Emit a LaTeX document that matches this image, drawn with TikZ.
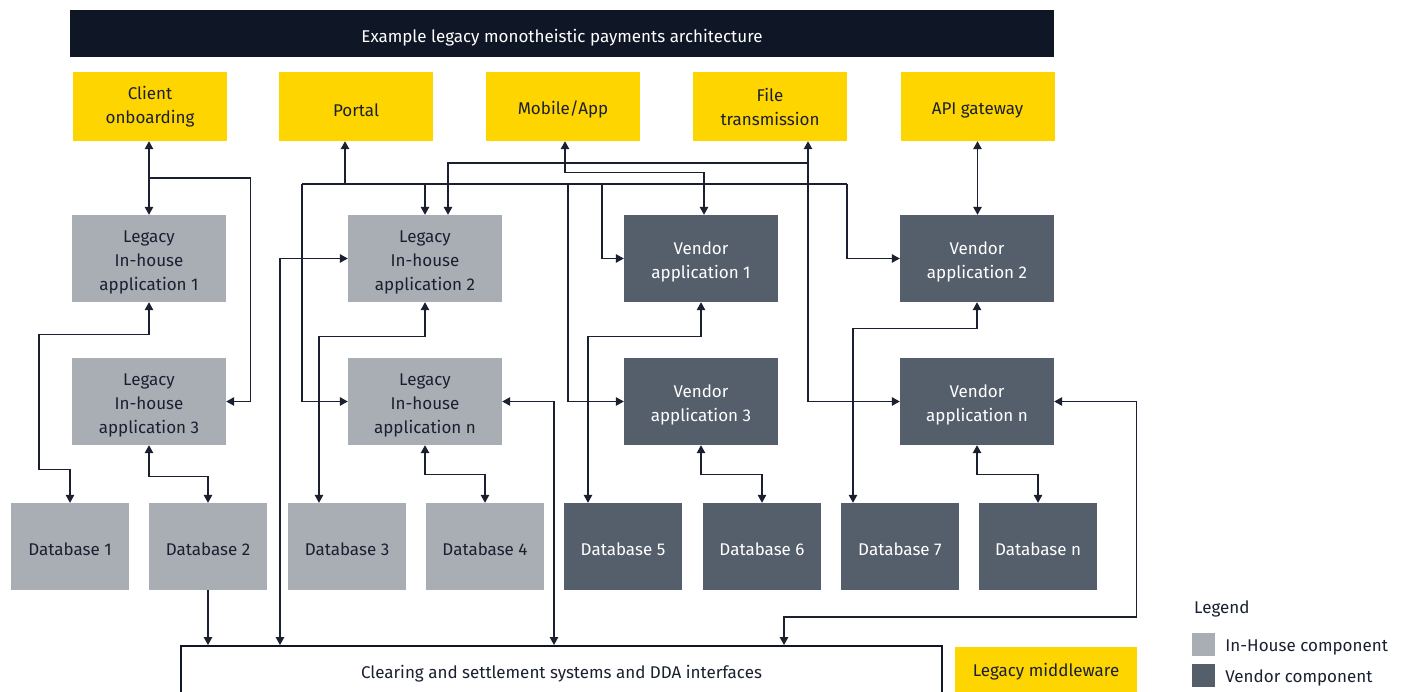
\documentclass[tikz,border=0pt]{standalone}
\usepackage{fontspec}
\setmainfont{Fira Sans}
\usetikzlibrary{arrows.meta,calc}
\definecolor{eyyellow}{RGB}{255,213,0}
\definecolor{inhouse}{RGB}{168,174,180}
\definecolor{vendor}{RGB}{85,94,107}
\definecolor{navy}{RGB}{15,22,38}
\definecolor{ink}{RGB}{26,32,48}
\newcommand{\mlines}[1]{\raisebox{-3.6pt}[\height][\depth]{\begin{tabular}{@{}c@{}}#1\end{tabular}}}
\begin{document}
\begin{tikzpicture}[x=1pt,y=-1pt,
  font=\fontsize{17}{24}\selectfont,
  base/.style={inner sep=0pt, align=center, text=ink},
  txt/.style={execute at begin node={\rule{0pt}{#1}}},
  txt/.default=18pt,
  topbox/.style={base, txt=20pt, fill=eyyellow, minimum width=154pt, minimum height=69pt},
  ihbox/.style={base, fill=inhouse, minimum width=154pt, minimum height=87pt},
  vdbox/.style={base, fill=vendor, text=white, minimum width=154pt, minimum height=87pt},
  ihdb/.style={base, txt, fill=inhouse, minimum width=118pt, minimum height=87pt},
  vddb/.style={base, txt, fill=vendor, text=white, minimum width=118pt, minimum height=87pt},
  conn/.style={draw=ink, line width=1.3pt},
  arr/.style={conn, -{Triangle[length=8pt,width=8.5pt]}},
  dbl/.style={conn, {Triangle[length=8pt,width=8.5pt]}-{Triangle[length=8pt,width=8.5pt]}},
  legtext/.style={base, txt, anchor=west}
]
\useasboundingbox (0,0) rectangle (1402,691);
\clip (0,0) rectangle (1402,691);
\fill[white] (0,0) rectangle (1402,691);

% title
\node[base, txt=22pt, fill=navy, text=white, minimum width=984pt, minimum height=47pt] (title) at (562,33.5) {Example legacy monotheistic payments architecture};

% top row
\node[topbox] (co) at (150,106.5) {Client\\onboarding};
\node[topbox] (po) at (356,106.5) {Portal};
\node[topbox] (ma) at (563,106.5) {Mobile/App};
\node[topbox] (ft) at (770,106.5) {File\\transmission};
\node[topbox] (ag) at (977.5,106.5) {API gateway};

% row 2
\node[ihbox] (la1) at (149,258.5) {\mlines{Legacy\\In-house\\application 1}};
\node[ihbox] (la2) at (425,258.5) {\mlines{Legacy\\In-house\\application 2}};
\node[vdbox] (va1) at (701,258.5) {\mlines{Vendor\\application 1}};
\node[vdbox] (va2) at (977,258.5) {\mlines{Vendor\\application 2}};

% row 3
\node[ihbox] (la3) at (149,401.5) {\mlines{Legacy\\In-house\\application 3}};
\node[ihbox] (lan) at (425,401.5) {\mlines{Legacy\\In-house\\application n}};
\node[vdbox] (va3) at (701,401.5) {\mlines{Vendor\\application 3}};
\node[vdbox] (van) at (977,401.5) {\mlines{Vendor\\application n}};

% databases
\node[ihdb] (db1) at (70,546.5) {Database 1};
\node[ihdb] (db2) at (208,546.5) {Database 2};
\node[ihdb] (db3) at (347,546.5) {Database 3};
\node[ihdb] (db4) at (485,546.5) {Database 4};
\node[vddb] (db5) at (623,546.5) {Database 5};
\node[vddb] (db6) at (762,546.5) {Database 6};
\node[vddb] (db7) at (900,546.5) {Database 7};
\node[vddb] (dbn) at (1038,546.5) {Database n};

% bottom
\node[base, draw=navy, line width=2pt, minimum width=761pt, minimum height=56pt, anchor=north] (clr) at (561.5,645) {Clearing and settlement systems and DDA interfaces};
\node[base, fill=eyyellow, minimum width=182pt, minimum height=48pt, anchor=north] (mw) at (1046,647) {Legacy middleware};

% legend
\node[legtext] (legt) at (1194,606) {Legend};
\node[base, fill=inhouse, minimum width=23pt, minimum height=23pt] (lg1) at (1203.5,644.5) {};
\node[base, fill=vendor, minimum width=23pt, minimum height=23pt] (lg2) at (1203.5,675.5) {};
\node[legtext] (lt1) at ($(lg1.east)+(10,0)$) {In-House component};
\node[legtext] (lt2) at ($(lg2.east)+(10,0)$) {Vendor component};

% junction coordinates
\coordinate (j1) at (149,178);
\coordinate (pl) at (302,184);
\coordinate (pr) at (847,184);
\coordinate (pj) at (345,184);
\coordinate (pa) at (568,184);
\coordinate (pb) at (602,184);
\coordinate (fj) at (808,163);

% client onboarding
\draw[dbl] (la1.north |- co.south) -- (la1.north);
\draw[arr] (j1) -| ($(la3.east)+(24,0)$) -- (la3.east);
\draw[dbl] (la1.south) -- ++(0,32) -| ($(db1.north)+(-31,-33)$) -| (db1.north);
\draw[dbl] (la3.south) -- ++(0,31) -| (db2.north);
\draw[arr] (db2.south) -- (db2.south |- clr.north);

% portal network
\draw[conn] (pl) -- (pr);
\draw[arr] (pj) -- (pj |- po.south);
\draw[arr] (pl) |- (lan.west);
\draw[arr] (pr) |- (va2.west);
\draw[arr] (la2.north |- pl) -- (la2.north);
\draw[arr] (pa) |- (va3.west);
\draw[arr] (pb) |- (va1.west);

% mobile
\draw[dbl] ($(ma.south)+(2,0)$) -- ++(0,31) -| ($(va1.north)+(3,0)$);

% file transmission
\draw[dbl] ($(ft.south)+(38,0)$) |- (van.west);
\draw[arr] (fj) -| ($(la2.north)+(23,0)$);

% api gateway
\draw[dbl] (ag.south) -- (ag.south |- va2.north);

% legacy app 2 / n
\draw[dbl] (la2.west) -| ($(clr.north)+(-281.5,0)$);
\draw[dbl] (la2.south) -- ++(0,34) -| ($(db3.north)+(-28,0)$);
\draw[dbl] (lan.south) -- ++(0,29) -| (db4.north);
\draw[dbl] (lan.east) -| ($(clr.north)+(-7.5,0)$);

% vendor apps
\draw[dbl] (va1.south) -- ++(0,34) -| ($(db5.north)+(-35,0)$);
\draw[dbl] (va3.south) -- ++(0,29) -| (db6.north);
\draw[dbl] (va2.south) -- ++(0,26) -| ($(db7.north)+(-47,0)$);
\draw[dbl] (van.south) -- ++(0,29) -| (dbn.north);
\draw[dbl] (van.east) -| ($(van.east)+(82,215.5)$) -| ($(clr.north)+(222.5,0)$);
\end{tikzpicture}
\end{document}
